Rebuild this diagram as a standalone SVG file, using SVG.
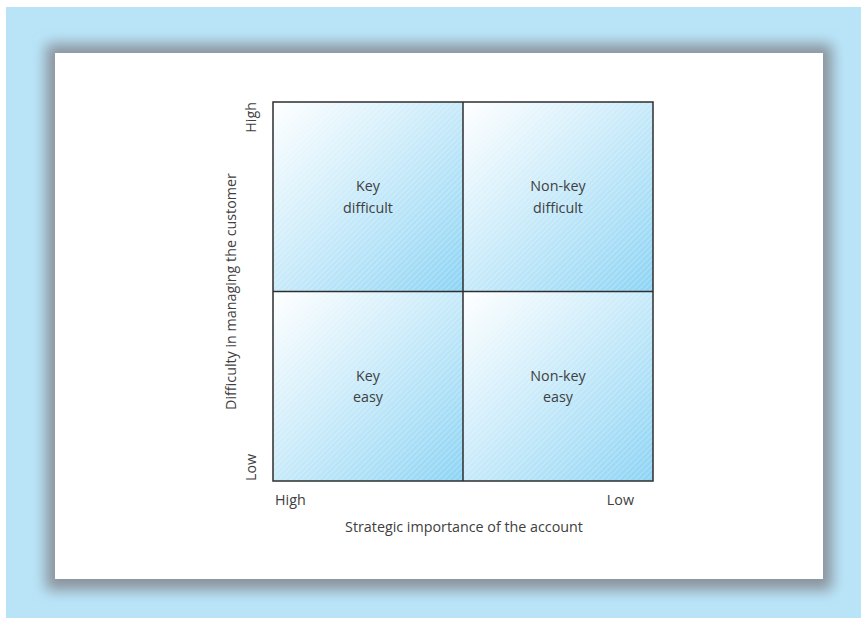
<svg xmlns="http://www.w3.org/2000/svg" width="861" height="618" viewBox="0 0 861 618">
<defs>
<style>
.lbl{font-family:"Open Sans","Liberation Sans",sans-serif;font-size:14.3px;fill:#404040}
.cell{fill:url(#cg);stroke:none}
.hatch{fill:url(#hp)}
.grid{fill:none;stroke:#2e2e2e;stroke-width:1.5}
</style>
<linearGradient id="cg" x1="0" y1="0" x2="1" y2="1">
<stop offset="0" stop-color="#ffffff"/>
<stop offset="0.45" stop-color="#cdecfa"/>
<stop offset="1" stop-color="#8ed4f4"/>
</linearGradient>
<pattern id="hp" width="4" height="4" patternUnits="userSpaceOnUse" patternTransform="rotate(-45)">
<rect x="0" y="0" width="4" height="1" fill="#ffffff" fill-opacity="0.25"/>
</pattern>
<filter id="blur" x="-10%" y="-10%" width="120%" height="120%">
<feGaussianBlur stdDeviation="7"/>
</filter>
</defs>
<rect x="0" y="0" width="861" height="618" fill="#ffffff"/>
<rect x="6" y="7" width="855" height="611" fill="#b9e4f8"/>
<rect x="46" y="44" width="786" height="546" fill="#8a939b" filter="url(#blur)"/>
<rect x="55" y="53" width="768" height="526" fill="#ffffff"/>

<g id="cell-key-difficult">
<rect class="cell" x="273" y="102" width="190" height="189.5"/>
<rect class="hatch" x="273" y="102" width="190" height="189.5"/>
<text class="lbl" x="368" y="191" text-anchor="middle">Key</text>
<text class="lbl" x="368" y="213" text-anchor="middle">difficult</text>
</g>
<g id="cell-nonkey-difficult">
<rect class="cell" x="463" y="102" width="190" height="189.5"/>
<rect class="hatch" x="463" y="102" width="190" height="189.5"/>
<text class="lbl" x="558" y="191" text-anchor="middle">Non-key</text>
<text class="lbl" x="558" y="213" text-anchor="middle">difficult</text>
</g>
<g id="cell-key-easy">
<rect class="cell" x="273" y="291.5" width="190" height="189.5"/>
<rect class="hatch" x="273" y="291.5" width="190" height="189.5"/>
<text class="lbl" x="368" y="381" text-anchor="middle">Key</text>
<text class="lbl" x="368" y="402" text-anchor="middle">easy</text>
</g>
<g id="cell-nonkey-easy">
<rect class="cell" x="463" y="291.5" width="190" height="189.5"/>
<rect class="hatch" x="463" y="291.5" width="190" height="189.5"/>
<text class="lbl" x="558" y="381" text-anchor="middle">Non-key</text>
<text class="lbl" x="558" y="402" text-anchor="middle">easy</text>
</g>

<g id="connectors">
<rect class="grid" x="273" y="102" width="380" height="379"/>
<line class="grid" x1="463" y1="102" x2="463" y2="481"/>
<line class="grid" x1="273" y1="291.5" x2="653" y2="291.5"/>
</g>

<g id="axes">
<text class="lbl" x="275" y="505">High</text>
<text class="lbl" x="634" y="505" text-anchor="end">Low</text>
<text class="lbl" x="464" y="532" text-anchor="middle">Strategic importance of the account</text>
<text class="lbl" transform="translate(256,102) rotate(-90)" text-anchor="end">High</text>
<text class="lbl" transform="translate(256,481) rotate(-90)" text-anchor="start">Low</text>
<text class="lbl" transform="translate(236,291.5) rotate(-90)" text-anchor="middle">Difficulty in managing the customer</text>
</g>
</svg>
